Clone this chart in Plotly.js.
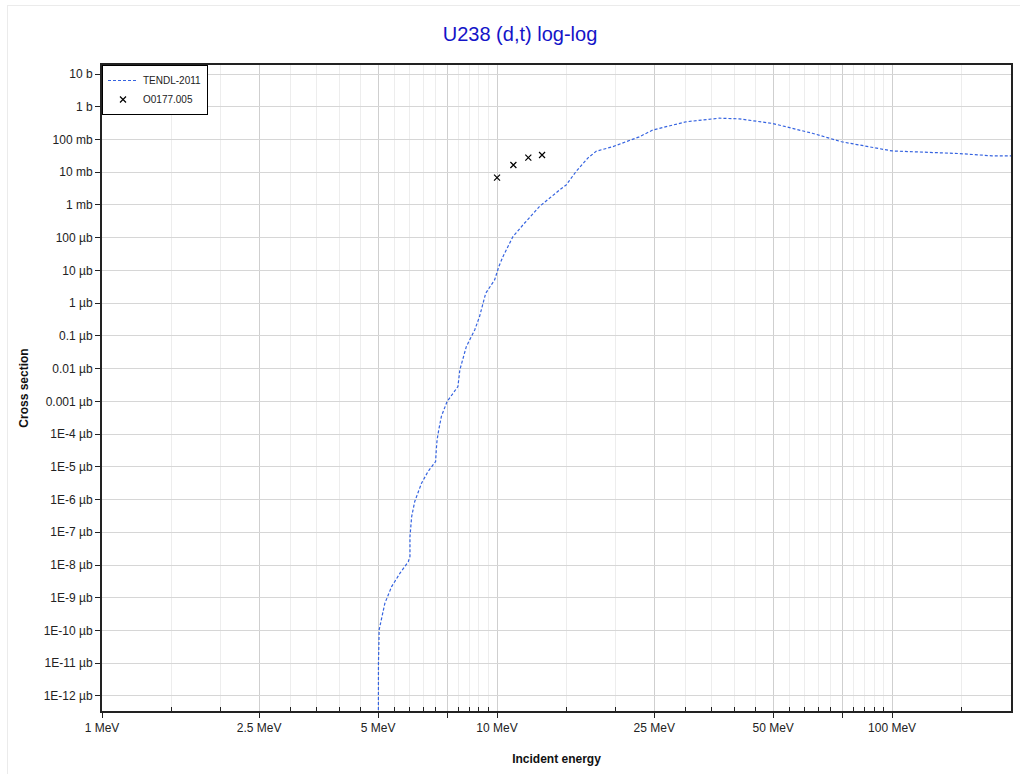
<!DOCTYPE html>
<html>
<head>
<meta charset="utf-8">
<script src="https://cdn.plot.ly/plotly-3.0.1.min.js"></script>
<style>
  html, body { margin: 0; padding: 0; background: #ffffff; }
  #frame { position: absolute; left: 7px; top: 5px; width: 1030px; height: 790px;
           border-left: 1px solid #ebebeb; border-top: 1px solid #ebebeb; pointer-events: none; }
  #chart { position: absolute; left: 0; top: 0; width: 1020px; height: 774px; }
</style>
</head>
<body>
<div id="chart"></div>
<div id="frame"></div>
<script>
// TENDL-2011 evaluation, U238(d,t): energy (MeV) and cross section (barns)
const tendlEnergy = [5.0, 5.0, 5.01, 5.03, 5.10, 5.20, 5.41, 5.68, 5.96, 6.02, 6.02, 6.04, 6.08, 6.19, 6.44, 6.69, 6.99,
  7.02, 7.05, 7.12, 7.23, 7.47, 7.96, 8.05, 8.36, 8.53, 8.78, 9.03, 9.36, 9.86, 10.1, 10.35, 10.97, 11.63,
  12.8, 14.4, 14.96, 15.85, 16.97, 17.82, 19.63, 22.9, 24.8, 30.1, 36.5, 41.0, 49.8, 62.8, 74.5, 100, 147.5, 179, 200];
const tendlLogSigma = [-25, -18.2, -17.0, -15.98, -15.68, -15.17, -14.66, -14.25, -13.90, -13.74, -13.13, -12.93, -12.52,
  -12.06, -11.50, -11.14, -10.84, -10.45, -10.18, -9.87, -9.46, -9.01, -8.55, -8.04, -7.33, -7.12, -6.82, -6.41, -5.70,
  -5.29, -4.89, -4.58, -3.97, -3.61, -3.05, -2.54, -2.39, -1.98, -1.57, -1.36, -1.22, -0.92, -0.71, -0.46, -0.35,
  -0.37, -0.51, -0.81, -1.07, -1.35, -1.43, -1.50, -1.50];
const tendlSigma = tendlLogSigma.map(v => Math.pow(10, v));

// EXFOR O0177.005 measured points: energy (MeV) and cross section (barns)
const expEnergy = [10.0, 11.0, 12.0, 13.0];
const expSigma = [0.0068, 0.0166, 0.0278, 0.0336];

// axis ticks
const xMajorVals = [1, 2.5, 5, 7.5, 10, 25, 50, 75, 100];
const xMajorText = ['1 MeV', '2.5 MeV', '5 MeV', '', '10 MeV', '25 MeV', '50 MeV', '', '100 MeV'];
const xMinorVals = [1.5, 2, 3, 3.5, 4, 4.5, 5.5, 6, 6.5, 7, 8, 8.5, 9, 9.5,
  15, 20, 30, 35, 40, 45, 55, 60, 65, 70, 80, 85, 90, 95, 150];
const yTickVals = [1e1, 1e0, 1e-1, 1e-2, 1e-3, 1e-4, 1e-5, 1e-6, 1e-7, 1e-8, 1e-9, 1e-10,
  1e-11, 1e-12, 1e-13, 1e-14, 1e-15, 1e-16, 1e-17, 1e-18];
const yTickText = ['10 b', '1 b', '100 mb', '10 mb', '1 mb', '100 µb', '10 µb', '1 µb', '0.1 µb',
  '0.01 µb', '0.001 µb', '1E-4 µb', '1E-5 µb', '1E-6 µb', '1E-7 µb', '1E-8 µb', '1E-9 µb',
  '1E-10 µb', '1E-11 µb', '1E-12 µb'];

const font = 'Liberation Sans, Arial, sans-serif';

const traces = [
  {
    x: tendlEnergy, y: tendlSigma, type: 'scatter', mode: 'lines', name: 'TENDL-2011',
    line: { color: '#3563e0', width: 1.2, dash: '3px,2px' }
  },
  {
    x: expEnergy, y: expSigma, type: 'scatter', mode: 'markers', name: 'O0177.005',
    marker: { symbol: 'x-thin-open', size: 6, color: '#000000', line: { color: '#000000', width: 1.2 } }
  }
];

const layout = {
  width: 1020, height: 774,
  margin: { l: 102, r: 9, t: 65, b: 63 },
  paper_bgcolor: '#ffffff', plot_bgcolor: '#ffffff',
  font: { family: font, size: 12, color: '#222222' },
  title: {
    text: 'U238 (d,t) log-log', font: { family: font, size: 20, color: '#1414c8' },
    x: 520 / 1020, xref: 'container', xanchor: 'center', y: 1 - 34 / 774, yref: 'container', yanchor: 'middle'
  },
  showlegend: true,
  legend: {
    x: 0, y: 1, xanchor: 'left', yanchor: 'top',
    bgcolor: '#ffffff', bordercolor: '#000000', borderwidth: 1,
    font: { family: font, size: 10, color: '#222222' },
    tracegroupgap: 0, itemwidth: 30
  },
  xaxis: {
    type: 'log', range: [0, Math.log10(200)],
    tickmode: 'array', tickvals: xMajorVals, ticktext: xMajorText,
    ticks: 'outside', ticklen: 5, tickcolor: '#222222', tickwidth: 1,
    showgrid: true, gridcolor: '#cfcfcf', gridwidth: 1,
    showline: true, linecolor: '#222222', linewidth: 2, mirror: true,
    zeroline: false,
    tickfont: { family: font, size: 12, color: '#222222' },
    minor: { tickmode: 'array', tickvals: xMinorVals, ticks: 'inside', ticklen: 4, tickcolor: '#222222',
             showgrid: true, gridcolor: '#ededed', gridwidth: 1 },
    title: { text: '<b>Incident energy</b>', font: { family: font, size: 12, color: '#111111' }, standoff: 20 }
  },
  yaxis: {
    type: 'log', range: [-18.46, 1.275],
    tickmode: 'array', tickvals: yTickVals, ticktext: yTickText,
    ticks: 'outside', ticklen: 5, tickcolor: '#222222', tickwidth: 1,
    showgrid: true, gridcolor: '#d6d6d6', gridwidth: 1,
    showline: true, linecolor: '#222222', linewidth: 2, mirror: true,
    zeroline: false,
    tickfont: { family: font, size: 12, color: '#222222' },
    title: { text: '<b>Cross section</b>', font: { family: font, size: 12, color: '#111111' }, standoff: 12 }
  }
};

Plotly.newPlot('chart', traces, layout, { displayModeBar: false, staticPlot: true });
</script>
</body>
</html>
